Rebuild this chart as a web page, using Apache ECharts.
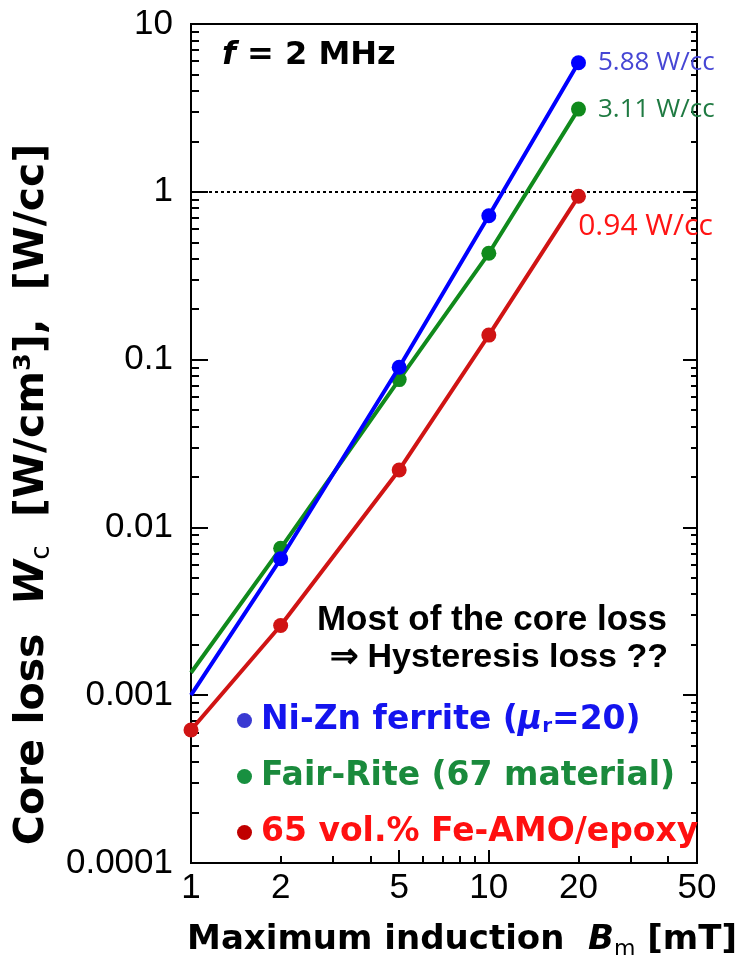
<!DOCTYPE html>
<html>
<head>
<meta charset="utf-8">
<script src="https://cdn.jsdelivr.net/npm/echarts@6/dist/echarts.min.js"></script>
<style>
  html, body { margin: 0; padding: 0; background: #fff; }
  #chart { width: 745px; height: 965px; }
</style>
</head>
<body>
<div id="chart"></div>
<script>
// Maximum induction Bm [mT]
const inductionMT = [1, 2, 5, 10, 20];
// Core loss Wc [W/cc] at f = 2 MHz
const nizn = [0.001, 0.0065, 0.09, 0.72, 5.88];
const fairRite = [0.00136, 0.0075, 0.076, 0.43, 3.11];
const feAmo = [0.00062, 0.0026, 0.022, 0.14, 0.94];
// the 1 mT values of the two ferrites are line extensions only (no measured point)
const measuredFrom = { nizn: 1, fairRite: 1, feAmo: 0 };

const seriesNames = ['Ni-Zn ferrite', 'Fair-Rite (67 material)', '65 vol.% Fe-AMO/epoxy'];
const endLabels = ['5.88 W/cc', '3.11 W/cc', '0.94 W/cc'];

// axis ticks
const xLabelTicks = [1, 2, 5, 10, 20, 50];
const xMajorTicks = [1, 5, 10, 50];
const xMinorTicks = [2, 3, 4, 6, 7, 8, 9, 20, 30, 40];
const yMajorTicks = [0.0001, 0.001, 0.01, 0.1, 1, 10];
const yMinorTicks = [];
for (const d of [0.0001, 0.001, 0.01, 0.1, 1]) {
  for (const m of [2, 3, 4, 5, 6, 7, 8, 9]) yMinorTicks.push(+(d * m).toPrecision(3));
}

const chart = echarts.init(document.getElementById('chart'), null, { renderer: 'canvas' });

const tickFont = 'Liberation Sans';
const boldFont = 'DejaVu Sans';

function pairs(ys) { return inductionMT.map((x, i) => [x, ys[i]]); }

function buildData(ys, firstMeasured, endLabel, labelOpts) {
  return pairs(ys).map((p, i) => {
    const item = { value: p };
    if (i < firstMeasured) item.symbol = 'none';
    if (i === ys.length - 1) {
      item.label = Object.assign({
        show: true,
        formatter: endLabel,
        fontFamily: 'Open Sans',
        fontSize: 26
      }, labelOpts);
    }
    return item;
  });
}

const tickAxisBase = (type) => ({
  type: 'log',
  logBase: 10,
  min: type === 'x' ? 1 : 0.0001,
  max: type === 'x' ? 50 : 10,
  axisLine: { show: false },
  axisLabel: { show: false },
  splitLine: { show: false },
  minorTick: { show: false },
  minorSplitLine: { show: false }
});

const option = {
  animation: false,
  backgroundColor: '#ffffff',
  grid: {
    left: 191, right: 48, top: 24, bottom: 101,
    show: true, borderColor: '#000', borderWidth: 2, backgroundColor: 'transparent'
  },
  xAxis: [
    Object.assign(tickAxisBase('x'), {
      position: 'bottom',
      axisLine: { show: true, lineStyle: { color: '#000', width: 2 } },
      axisTick: { show: true, inside: true, length: 13, customValues: xMajorTicks, lineStyle: { color: '#000', width: 2 } },
      axisLabel: {
        show: true, customValues: xLabelTicks, margin: 8,
        fontFamily: tickFont, fontSize: 35, color: '#000'
      },
      name: '{t|Maximum induction  }{i|B}{s|m}{t| [mT]}',
      nameLocation: 'middle',
      nameGap: 57,
      nameTextStyle: {
        padding: [0, 0, 0, 36],
        rich: {
          t: { fontFamily: boldFont, fontWeight: 'bold', fontSize: 34, color: '#000', lineHeight: 40 },
          i: { fontFamily: boldFont, fontWeight: 'bold', fontStyle: 'italic', fontSize: 34, color: '#000', lineHeight: 40 },
          s: { fontFamily: boldFont, fontSize: 22, color: '#000', lineHeight: 8, verticalAlign: 'bottom' }
        }
      }
    }),
    Object.assign(tickAxisBase('x'), {
      position: 'bottom',
      axisTick: { show: true, inside: true, length: 7, customValues: xMinorTicks, lineStyle: { color: '#000', width: 2 } }
    })
  ],
  yAxis: [
    Object.assign(tickAxisBase('y'), {
      position: 'left',
      axisLine: { show: true, lineStyle: { color: '#000', width: 2 } },
      axisTick: { show: true, inside: true, length: 17, customValues: yMajorTicks, lineStyle: { color: '#000', width: 2 } },
      axisLabel: {
        show: true, customValues: yMajorTicks, margin: 18,
        fontFamily: tickFont, fontSize: 35, color: '#000',
        formatter: (v) => String(+v.toPrecision(2))
      },
      name: '{t|Core loss  }{i|W}{s|c}{t|  [W/cm³],  [W/cc]}',
      nameLocation: 'middle',
      nameGap: 133,
      nameTextStyle: {
        padding: [0, 102, 0, 0],
        rich: {
          t: { fontFamily: boldFont, fontWeight: 'bold', fontSize: 41, color: '#000', lineHeight: 46 },
          i: { fontFamily: boldFont, fontWeight: 'bold', fontStyle: 'italic', fontSize: 41, color: '#000', lineHeight: 46 },
          s: { fontFamily: boldFont, fontSize: 26, color: '#000', lineHeight: 8, verticalAlign: 'bottom' }
        }
      }
    }),
    Object.assign(tickAxisBase('y'), {
      position: 'left',
      axisTick: { show: true, inside: true, length: 8, customValues: yMinorTicks, lineStyle: { color: '#000', width: 2 } }
    }),
    Object.assign(tickAxisBase('y'), {
      position: 'right',
      axisLine: { show: true, lineStyle: { color: '#000', width: 2 } },
      axisTick: { show: true, inside: true, length: 14, customValues: yMajorTicks, lineStyle: { color: '#000', width: 2 } }
    }),
    Object.assign(tickAxisBase('y'), {
      position: 'right',
      axisTick: { show: true, inside: true, length: 6, customValues: yMinorTicks, lineStyle: { color: '#000', width: 2 } }
    })
  ],
  legend: {
    orient: 'vertical',
    left: 232,
    top: 699,
    itemGap: 23,
    icon: 'circle',
    itemWidth: 15,
    itemHeight: 15,
    textStyle: {
      fontFamily: boldFont, fontWeight: 'bold', fontSize: 33, padding: [0, 0, 0, 4],
      rich: {
        n: { fontFamily: boldFont, fontWeight: 'bold', fontSize: 33, color: '#1414ee' },
        mu: { fontFamily: boldFont, fontWeight: 'bold', fontStyle: 'italic', fontSize: 33, color: '#1414ee' },
        r: { fontFamily: boldFont, fontWeight: 'bold', fontSize: 20, color: '#1414ee', lineHeight: 4, verticalAlign: 'bottom' }
      }
    },
    formatter: (name) => name === seriesNames[0] ? '{n|Ni-Zn ferrite (}{mu|μ}{r|r}{n|=20)}' : name,
    data: [
      { name: seriesNames[0], itemStyle: { color: '#3a3ad2' }, textStyle: { color: '#1414ee' } },
      { name: seriesNames[1], itemStyle: { color: '#189040' }, textStyle: { color: '#1a8a3c' } },
      { name: seriesNames[2], itemStyle: { color: '#c00000' }, textStyle: { color: '#ff1010' } }
    ]
  },
  graphic: [
    {
      type: 'text', left: 222, top: 40, z: 10,
      style: {
        text: '{i|f}{t| = 2 MHz}',
        rich: {
          i: { fontFamily: boldFont, fontWeight: 'bold', fontStyle: 'italic', fontSize: 32, fill: '#000' },
          t: { fontFamily: boldFont, fontWeight: 'bold', fontSize: 32, fill: '#000' }
        }
      }
    },
    {
      type: 'text', right: 78, top: 603, z: 10,
      style: { text: 'Most of the core loss', font: 'bold 35px "Liberation Sans"', fill: '#000', textAlign: 'right' }
    },
    {
      type: 'text', right: 77, top: 641, z: 10,
      style: { text: '⇒ Hysteresis loss ??', font: 'bold 34px "Liberation Sans"', fill: '#000', textAlign: 'right' }
    }
  ],
  series: [
    {
      name: seriesNames[0], type: 'line', xAxisIndex: 0, yAxisIndex: 0,
      data: buildData(nizn, measuredFrom.nizn, endLabels[0], { position: 'right', distance: 12, color: '#4646d4' }),
      symbol: 'circle', symbolSize: 15, color: '#0000ff',
      lineStyle: { width: 4, color: '#0000ff' }, z: 4,
      markLine: {
        silent: true, symbol: 'none', label: { show: false },
        lineStyle: { type: [3, 3], color: '#000', width: 2 },
        data: [{ yAxis: 1 }], z: 1
      }
    },
    {
      name: seriesNames[1], type: 'line', xAxisIndex: 0, yAxisIndex: 0,
      data: buildData(fairRite, measuredFrom.fairRite, endLabels[1], { position: 'right', distance: 12, color: '#1f7a42' }),
      symbol: 'circle', symbolSize: 15, color: '#108a1c',
      lineStyle: { width: 4, color: '#108a1c' }, z: 3
    },
    {
      name: seriesNames[2], type: 'line', xAxisIndex: 0, yAxisIndex: 0,
      data: buildData(feAmo, measuredFrom.feAmo, endLabels[2], { position: 'bottom', distance: 8, offset: [67, 0], fontSize: 30, color: '#ff1414' }),
      symbol: 'circle', symbolSize: 15, color: '#d01414',
      lineStyle: { width: 4, color: '#d01414' }, z: 2
    }
  ]
};

chart.setOption(option);
</script>
</body>
</html>
